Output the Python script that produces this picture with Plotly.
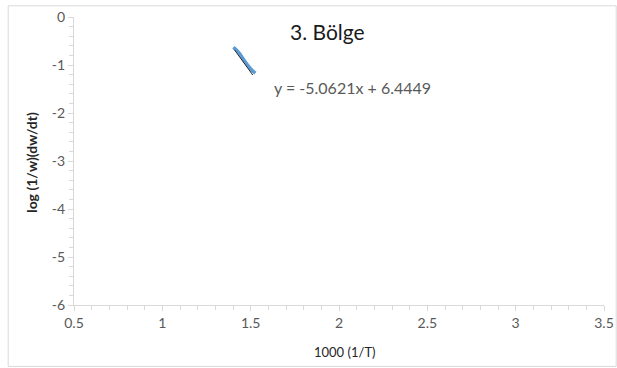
import plotly.graph_objects as go

# Measured series: 1000/T versus log (1/w)(dw/dt)
inv_t = [1.402, 1.419, 1.438, 1.456, 1.475, 1.494, 1.512, 1.527]
log_rate = [-0.63, -0.685, -0.765, -0.865, -0.965, -1.055, -1.125, -1.17]

# Linear trendline coefficients
slope = -5.0621
intercept = 6.4449
trend_x = [1.408, 1.512]

x_ticks = [0.5, 1, 1.5, 2, 2.5, 3, 3.5]
y_ticks = [0, -1, -2, -3, -4, -5, -6]

font = "Lato, 'Open Sans', sans-serif"
axis_grey = "#d9d9d9"
label_grey = "#595959"

fig = go.Figure()
fig.add_trace(go.Scatter(
    x=inv_t, y=log_rate, mode="lines",
    line=dict(color="#5b9bd5", width=3.5, shape="spline"),
    showlegend=False, hoverinfo="skip",
))
fig.add_trace(go.Scatter(
    x=trend_x, y=[slope * v + intercept for v in trend_x], mode="lines",
    line=dict(color="#262626", width=1),
    showlegend=False, hoverinfo="skip",
))

fig.update_xaxes(
    range=[0.5, 3.5], tickvals=x_ticks, ticktext=[f"{v:g}" for v in x_ticks],
    showgrid=False, zeroline=False, showline=True, linecolor=axis_grey, linewidth=1,
    ticks="outside", ticklen=5, tickcolor=axis_grey,
    minor=dict(dtick=0.1, ticks="outside", ticklen=4, tickcolor=axis_grey, showgrid=False),
    tickfont=dict(family=font, size=14, color=label_grey),
    automargin=False,
)
fig.update_yaxes(
    range=[-6, 0], tickvals=y_ticks, ticktext=[f"{v:g}" for v in y_ticks],
    showgrid=False, zeroline=False, showline=True, linecolor=axis_grey, linewidth=1,
    ticks="outside", ticklen=5, tickcolor=axis_grey,
    minor=dict(dtick=0.2, ticks="outside", ticklen=4, tickcolor=axis_grey, showgrid=False),
    tickfont=dict(family=font, size=14, color=label_grey),
    automargin=False,
)

# Plot area spans x 74..604 px, y 17..305 px of the 617x368 page
pl, pr, pt, pb = 74.3, 604.3, 16.7, 305.0
pw, ph = pr - pl, pb - pt


def px(x):
    return (x - pl) / pw


def py(y):
    return (pb - y) / ph


annotations = [
    dict(text="3. Bölge", x=px(328), y=py(31), xref="paper", yref="paper",
         showarrow=False, xanchor="center", yanchor="middle",
         font=dict(family=font, size=21, color="#1a1a1a")),
    dict(text="y = -5.0621x + 6.4449", x=px(353), y=py(87), xref="paper", yref="paper",
         showarrow=False, xanchor="center", yanchor="middle",
         font=dict(family=font, size=16, color=label_grey)),
    dict(text="1000 (1/T)", x=px(345), y=py(352), xref="paper", yref="paper",
         showarrow=False, xanchor="center", yanchor="middle",
         font=dict(family=font, size=13, color="#262626")),
    dict(text="<b>log (1/w)(dw/dt)</b>", x=px(31), y=py(162), xref="paper", yref="paper",
         showarrow=False, xanchor="center", yanchor="middle", textangle=-90,
         font=dict(family=font, size=14, color="#262626")),
]

# Chart-area border
border = dict(type="rect", xref="paper", yref="paper",
              x0=px(8.5), x1=px(616.5), y0=py(366.5), y1=py(5.5),
              line=dict(color=axis_grey, width=1), layer="below")

fig.update_layout(
    width=617, height=368,
    margin=dict(l=pl, r=617 - pr, t=pt, b=368 - pb, autoexpand=False),
    paper_bgcolor="white", plot_bgcolor="white",
    annotations=annotations, shapes=[border],
    font=dict(family=font),
)

fig.write_html("out.html")
